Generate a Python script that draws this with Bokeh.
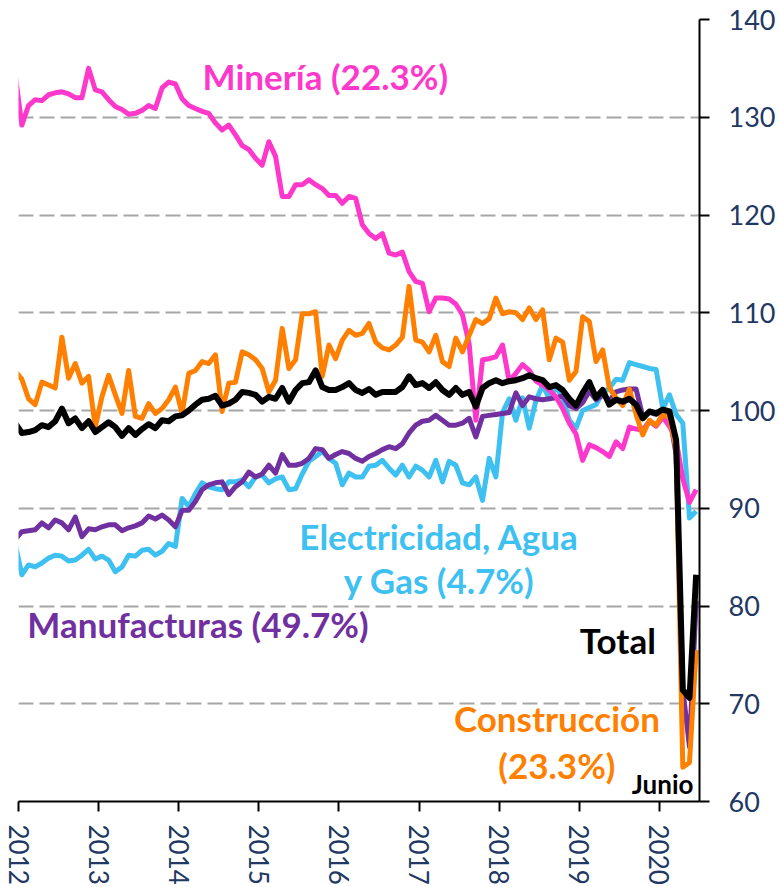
from bokeh.plotting import figure
from bokeh.models import FixedTicker, Label, ColumnDataSource
from bokeh.embed import file_html
from bokeh.resources import INLINE

# ---- data (monthly index, Dec 2011 .. Jun 2020; Dec 2011 is clipped at the left edge) ----
start_year = 2011
start_month = 12

years = [2012, 2013, 2014, 2015, 2016, 2017, 2018, 2019, 2020]
year_labels = ["2012", "2013", "2014", "2015", "2016", "2017", "2018", "2019", "2020"]
y_ticks = [60, 70, 80, 90, 100, 110, 120, 130, 140]

mineria = [134.4,
    129.2, 131.2, 131.8, 131.7, 132.3, 132.5, 132.6, 132.4, 132.0, 132.0, 135.0, 132.8,
    132.6, 131.8, 131.1, 130.8, 130.3, 130.4, 130.7, 131.2, 130.9, 133.0, 133.6, 133.4,
    131.9, 131.2, 130.9, 130.6, 130.4, 129.4, 128.7, 129.2, 128.2, 127.1, 126.7, 125.8,
    125.1, 127.5, 126.0, 121.9, 121.9, 123.1, 123.1, 123.6, 123.1, 122.7, 122.0, 122.0,
    121.2, 121.9, 121.7, 119.0, 118.1, 117.6, 118.1, 116.1, 115.9, 116.2, 114.2, 113.2,
    113.0, 110.1, 111.5, 111.5, 111.4, 110.9, 109.8, 106.8, 99.0, 105.2, 105.3, 105.5,
    106.7, 103.0, 103.8, 104.7, 104.1, 103.0, 102.6, 102.1, 101.4, 100.2, 98.7, 97.6,
    94.9, 96.5, 96.2, 95.8, 95.3, 96.8, 96.1, 98.3, 98.1, 98.0, 98.9, 98.4,
    99.3, 98.4, 97.0, 93.0, 90.6, 91.9]

construccion = [104.0,
    103.2, 101.2, 100.6, 102.9, 102.6, 102.3, 107.5, 103.3, 104.8, 102.8, 103.5, 98.3,
    101.4, 103.6, 101.6, 99.7, 104.1, 99.4, 99.2, 100.7, 99.7, 100.2, 101.1, 102.4,
    99.7, 103.8, 104.1, 105.0, 104.8, 105.7, 99.9, 102.8, 102.9, 106.0, 105.7, 105.2,
    104.3, 101.9, 103.1, 108.4, 104.3, 105.2, 109.9, 109.9, 110.1, 103.5, 106.7, 105.3,
    107.2, 108.2, 107.7, 107.9, 108.9, 107.0, 106.4, 106.2, 106.7, 107.5, 112.7, 107.2,
    107.0, 106.0, 107.7, 105.0, 104.5, 107.4, 106.0, 107.7, 109.3, 108.9, 109.4, 111.5,
    109.9, 110.1, 110.0, 109.3, 110.5, 109.3, 110.3, 105.2, 107.4, 107.0, 103.1, 104.0,
    109.6, 109.1, 105.0, 106.2, 102.3, 101.3, 100.5, 102.2, 99.6, 97.5, 99.0, 98.5,
    99.6, 99.3, 96.0, 63.5, 64.0, 75.5]

total = [98.7,
    97.7, 97.8, 98.0, 98.5, 98.3, 98.9, 100.2, 98.7, 99.2, 98.2, 98.9, 97.8,
    98.3, 98.8, 98.3, 97.4, 98.2, 97.5, 98.1, 98.6, 98.2, 99.0, 98.9, 99.4,
    99.5, 100.0, 100.6, 101.1, 101.2, 101.5, 100.5, 100.7, 101.1, 101.9, 101.8, 101.6,
    100.9, 101.4, 101.2, 102.3, 100.9, 102.1, 102.8, 102.9, 104.1, 102.4, 102.1, 102.1,
    102.4, 102.8, 102.1, 101.8, 102.2, 101.6, 101.9, 101.9, 101.9, 102.4, 103.5, 102.6,
    102.8, 102.3, 102.9, 102.1, 101.6, 102.3, 101.6, 101.9, 100.4, 102.3, 102.8, 103.1,
    102.8, 103.0, 103.1, 103.3, 103.6, 103.3, 103.1, 102.4, 102.6, 102.1, 101.2, 100.5,
    101.8, 102.9, 101.3, 102.1, 100.6, 101.1, 100.9, 101.2, 100.6, 99.2, 99.9, 99.7,
    100.1, 99.9, 97.0, 71.4, 70.6, 83.2]

manufacturas = [86.8,
    87.6, 87.7, 87.8, 88.5, 88.0, 88.8, 88.5, 87.8, 89.1, 87.1, 87.9, 87.8,
    88.1, 88.3, 88.3, 87.7, 88.0, 88.2, 88.5, 89.2, 88.9, 89.3, 88.8, 88.1,
    89.8, 89.8, 90.7, 91.9, 92.4, 92.6, 92.7, 91.4, 92.2, 92.7, 93.7, 93.2,
    93.5, 94.4, 93.6, 95.5, 94.4, 94.4, 94.6, 95.1, 96.1, 96.0, 95.1, 95.5,
    95.8, 95.6, 95.1, 94.8, 95.3, 95.6, 96.0, 96.3, 96.1, 96.6, 97.7, 98.5,
    98.9, 99.0, 99.5, 99.0, 98.5, 98.5, 98.7, 99.2, 97.3, 99.4, 99.5, 99.6,
    99.7, 99.8, 101.8, 100.5, 101.4, 101.2, 101.1, 101.2, 101.3, 101.5, 100.5, 100.2,
    100.8, 102.0, 101.1, 101.6, 101.0, 101.9, 102.1, 102.2, 102.2, 99.4, 99.8, 99.6,
    99.8, 99.4, 95.5, 71.5, 65.6, 80.5]

electricidad = [86.4,
    83.2, 84.2, 84.0, 84.4, 84.9, 85.2, 85.1, 84.6, 84.7, 85.2, 85.8, 84.8,
    85.1, 84.7, 83.5, 84.0, 85.2, 85.1, 85.7, 85.8, 85.2, 85.6, 86.4, 86.1,
    91.0, 90.2, 91.5, 92.6, 92.2, 92.0, 91.9, 92.7, 92.7, 92.9, 92.2, 93.2,
    93.4, 92.6, 93.0, 93.2, 91.9, 92.0, 93.5, 94.8, 95.3, 95.8, 95.1, 94.6,
    92.4, 93.6, 93.2, 93.2, 94.3, 94.4, 94.9, 94.1, 93.4, 94.4, 93.2, 94.3,
    93.9, 93.2, 94.9, 92.7, 94.8, 94.4, 92.6, 92.4, 93.2, 90.8, 95.1, 93.2,
    99.8, 101.2, 99.0, 101.3, 98.2, 101.0, 102.6, 101.2, 102.4, 101.3, 99.0, 98.2,
    100.0, 100.3, 100.6, 101.8, 102.3, 103.2, 103.1, 104.9, 104.7, 104.5, 104.3, 104.2,
    100.2, 101.6, 99.6, 98.7, 89.0, 89.7]

# ---- styles ----
C_MIN = "#FF38CC"
C_CON = "#FF8000"
C_TOT = "#000000"
C_MAN = "#7030A0"
C_ELE = "#3EC1F1"
C_AXT = "#1F3864"
FONT = "Lato"

n = len(total)
# month categories centred between the yearly tick marks
xpos = [start_year + (start_month - 1 + i + 0.5) / 12.0 for i in range(n)]

src = ColumnDataSource(dict(x=xpos, mineria=mineria, construccion=construccion,
                            total=total, manufacturas=manufacturas,
                            electricidad=electricidad))

p = figure(frame_width=681, frame_height=782,
           x_range=(years[0], years[-1] + 0.5), y_range=(y_ticks[0], y_ticks[-1]),
           y_axis_location="right", output_backend="svg", toolbar_location=None,
           min_border_left=18, min_border_top=19, min_border_right=0,
           min_border_bottom=0, background_fill_color="white",
           border_fill_color="white")
p.outline_line_color = None

# grid
p.xgrid.visible = False
p.ygrid.ticker = FixedTicker(ticks=y_ticks)
p.ygrid.grid_line_color = "#A6A6A6"
p.ygrid.grid_line_width = 2
p.ygrid.grid_line_dash = "15 6"

# axes
p.xaxis.ticker = FixedTicker(ticks=years)
p.xaxis.major_label_overrides = {y: lab for y, lab in zip(years, year_labels)}
p.xaxis.major_label_orientation = "vertical"
p.yaxis.ticker = FixedTicker(ticks=y_ticks)
for ax in (p.xaxis[0], p.yaxis[0]):
    ax.axis_line_color = "black"
    ax.axis_line_width = 2
    ax.major_tick_line_color = "black"
    ax.major_tick_line_width = 2
    ax.major_tick_in = 0
    ax.major_tick_out = 10
    ax.minor_tick_line_color = None
    ax.major_label_text_font = FONT
    ax.major_label_text_color = C_AXT
p.xaxis.major_label_text_font_size = "26px"
p.xaxis.major_label_standoff = 13
p.yaxis.major_label_text_font_size = "27px"
p.yaxis.major_label_standoff = 19

# lines
lw = 5
p.line("x", "electricidad", source=src, line_color=C_ELE, line_width=lw, line_join="round")
p.line("x", "manufacturas", source=src, line_color=C_MAN, line_width=lw, line_join="round")
p.line("x", "mineria", source=src, line_color=C_MIN, line_width=lw, line_join="round")
p.line("x", "construccion", source=src, line_color=C_CON, line_width=lw, line_join="round")
p.line("x", "total", source=src, line_color=C_TOT, line_width=6, line_join="round")

# annotations
def lab(text, x, y, color, size, align):
    p.add_layout(Label(x=x, y=y, text=text, text_color=color, text_font=FONT,
                       text_font_size=size, text_font_style="bold",
                       text_align=align, text_baseline="alphabetic"))

BIG = "35px"
lab("Minería (22.3%)", 2015.83, 134.25, C_MIN, BIG, "center")
lab("Electricidad, Agua", 2017.25, 87.15, C_ELE, BIG, "center")
lab("y Gas (4.7%)", 2017.25, 82.65, C_ELE, BIG, "center")
lab("Manufacturas (49.7%)", 2012.11, 78.2, C_MAN, BIG, "left")
lab("Total", 2019.955, 76.5, C_TOT, BIG, "right")
lab("Construcción", 2018.72, 68.55, C_CON, BIG, "center")
lab("(23.3%)", 2018.72, 63.7, C_CON, BIG, "center")
lab("Junio", 2020.425, 61.75, C_TOT, "26px", "right")

open("out.html", "w").write(file_html(p, INLINE))
